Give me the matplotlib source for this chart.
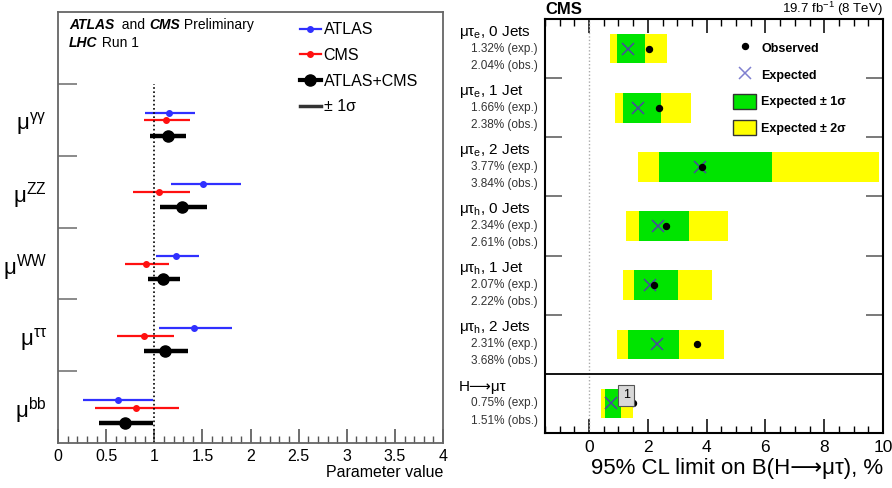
import numpy as np
import matplotlib
matplotlib.use('Agg')
import matplotlib.pyplot as plt
from matplotlib.lines import Line2D
from matplotlib.patches import Patch
from matplotlib.ticker import MultipleLocator, FuncFormatter

plt.rcParams['font.family'] = ['Liberation Sans', 'DejaVu Sans']
plt.rcParams['mathtext.fontset'] = 'custom'
plt.rcParams['mathtext.rm'] = 'Liberation Sans'
plt.rcParams['mathtext.it'] = 'Liberation Sans:italic'
plt.rcParams['mathtext.bf'] = 'Liberation Sans:bold'

# left panel: signal strengths, listed bottom -> top
channels = ['bb', 'ττ', 'WW', 'ZZ', 'γγ']
atlas_val = [0.62, 1.41, 1.23, 1.51, 1.15]
atlas_lo = [0.36, 0.36, 0.21, 0.34, 0.25]
atlas_hi = [0.37, 0.40, 0.23, 0.39, 0.27]
cms_val = [0.81, 0.89, 0.91, 1.05, 1.12]
cms_lo = [0.43, 0.28, 0.21, 0.27, 0.23]
cms_hi = [0.45, 0.31, 0.24, 0.32, 0.25]
comb_val = [0.70, 1.11, 1.09, 1.29, 1.14]
comb_lo = [0.27, 0.22, 0.16, 0.23, 0.18]
comb_hi = [0.29, 0.24, 0.18, 0.26, 0.19]

# right panel: H -> mu tau limits, listed top -> bottom
cats = ['μτ$_\\mathregular{e}$, 0 Jets', 'μτ$_\\mathregular{e}$, 1 Jet',
        'μτ$_\\mathregular{e}$, 2 Jets', 'μτ$_\\mathregular{h}$, 0 Jets',
        'μτ$_\\mathregular{h}$, 1 Jet', 'μτ$_\\mathregular{h}$, 2 Jets', 'H⟶μτ']
expected = [1.32, 1.66, 3.77, 2.34, 2.07, 2.31, 0.75]
observed = [2.04, 2.38, 3.84, 2.61, 2.22, 3.68, 1.51]
s1_lo = [0.95, 1.16, 2.39, 1.71, 1.54, 1.32, 0.55]
s1_hi = [1.91, 2.45, 6.23, 3.41, 3.03, 3.07, 1.08]
s2_lo = [0.72, 0.89, 1.67, 1.26, 1.14, 0.94, 0.42]
s2_hi = [2.66, 3.47, 9.85, 4.74, 4.19, 4.60, 1.49]

W, H = 892, 488
fig = plt.figure(figsize=(W / 100, H / 100), dpi=100)


def px_axes(l, t, r, b):
    return fig.add_axes([l / W, 1 - b / H, (r - l) / W, (b - t) / H])


# ---------------- left panel ----------------
ax = px_axes(58, 12, 443, 443)
band = np.arange(len(channels))
ax.errorbar(atlas_val, band + 0.60, xerr=[atlas_lo, atlas_hi], fmt='o',
            color='#3030ff', ms=4, elinewidth=1.6, capsize=0)
ax.errorbar(cms_val, band + 0.49, xerr=[cms_lo, cms_hi], fmt='o',
            color='#ff1010', ms=4, elinewidth=1.6, capsize=0)
ax.errorbar(comb_val, band + 0.28, xerr=[comb_lo, comb_hi], fmt='o',
            color='black', ms=8, elinewidth=3.2, capsize=0)
ax.vlines(1, 0, len(channels), colors='black', linestyles=(0, (1, 1.5)), lw=1.2)

ax.set_xlim(0, 4)
ax.set_ylim(0, len(channels) + 1)
ax.xaxis.set_major_locator(MultipleLocator(0.5))
ax.xaxis.set_minor_locator(MultipleLocator(0.1))
ax.xaxis.set_major_formatter(FuncFormatter(lambda v, p: f'{v:g}'))
ax.set_yticks(band + 0.5)
ax.set_yticklabels(['μ$^{\\mathregular{%s}}$' % c for c in channels], fontsize=16)
ax.set_yticks(np.arange(1, len(channels) + 1), minor=True)
ax.tick_params(axis='y', which='major', length=0, pad=8)
ax.tick_params(axis='y', which='minor', direction='in', length=14, width=1.2,
               color='#777777')
ax.tick_params(axis='x', which='major', direction='in', length=10, width=1.2,
               color='#555555', labelsize=11.5, pad=4)
ax.tick_params(axis='x', which='minor', direction='in', length=5, width=1,
               color='#555555')
for s in ax.spines.values():
    s.set_color('#666666')
    s.set_linewidth(1.3)
ax.text(1.0, -0.068, 'Parameter value', transform=ax.transAxes,
        ha='right', va='center', fontsize=11.5)

t1 = ax.text(0.029, 0.970, 'ATLAS', transform=ax.transAxes, fontsize=10,
             weight='bold', style='italic', va='center')
t2 = ax.annotate('  and ', xy=(1, 0.5), xycoords=t1, va='center', fontsize=10)
t3 = ax.annotate('CMS', xy=(1, 0.5), xycoords=t2, va='center', fontsize=10,
                 weight='bold', style='italic')
ax.annotate(' Preliminary', xy=(1, 0.5), xycoords=t3, va='center', fontsize=10)
t4 = ax.text(0.029, 0.928, 'LHC', transform=ax.transAxes, fontsize=10,
             weight='bold', style='italic', va='center')
ax.annotate(' Run 1', xy=(1, 0.5), xycoords=t4, va='center', fontsize=10)

lh = [Line2D([], [], color='#3030ff', lw=1.6, marker='o', ms=4),
      Line2D([], [], color='#ff1010', lw=1.6, marker='o', ms=4),
      Line2D([], [], color='black', lw=3, marker='o', ms=8),
      Line2D([], [], color='#333333', lw=2.5)]
ax.legend(lh, ['ATLAS', 'CMS', 'ATLAS+CMS', '± 1σ'], loc='upper left',
          bbox_to_anchor=(0.628, 0.976), frameon=False, fontsize=11.5,
          handlelength=1.3, handletextpad=0.2, labelspacing=0.67,
          borderpad=0, borderaxespad=0)

# ---------------- right panel ----------------
ax2 = px_axes(545, 19, 883, 433)
n = len(cats)
yc = n - 0.5 - np.arange(n)
ax2.barh(yc, np.array(s2_hi) - np.array(s2_lo), left=s2_lo, height=0.5,
         color='#ffff00', lw=0)
ax2.barh(yc, np.array(s1_hi) - np.array(s1_lo), left=s1_lo, height=0.5,
         color='#00e400', lw=0)
ax2.plot(expected, yc, 'x', color='#4848a0', ms=9, mew=1.1, ls='none')
ax2.plot(observed, yc, 'o', color='black', ms=4.3, ls='none')
ax2.axvline(0, color='#aaaaaa', ls=(0, (1, 1.5)), lw=1)
ax2.axhline(1, color='black', lw=1.3)
ax2.text(1.26, 0.64, '1', fontsize=9, ha='center', va='center',
         bbox=dict(boxstyle='square,pad=0.35', facecolor='#d8d8d8',
                   edgecolor='#555555', lw=0.8))

ax2.set_xlim(-1.5, 10)
ax2.set_ylim(0, n)
ax2.xaxis.set_major_locator(MultipleLocator(2))
ax2.xaxis.set_minor_locator(MultipleLocator(0.5))
ax2.set_yticks(np.arange(2, n))
ax2.set_yticklabels([])
ax2.tick_params(axis='x', which='both', direction='in', top=True)
ax2.tick_params(axis='x', which='major', length=10, width=1.1, labelsize=12.5, pad=5)
ax2.tick_params(axis='x', which='minor', length=5, width=1)
ax2.tick_params(axis='y', direction='in', left=True, right=True, length=12,
                width=1.1, color='#555555')
for s in ax2.spines.values():
    s.set_linewidth(1.5)
ax2.text(1.0, -0.085, '95% CL limit on B(H⟶μτ), %', transform=ax2.transAxes,
         ha='right', va='center', fontsize=16)

tr = ax2.get_yaxis_transform()
for y, c, e, o in zip(yc, cats, expected, observed):
    ax2.text(-0.254, y + 0.28, c, transform=tr, ha='left', va='center', fontsize=11)
    ax2.text(-0.021, y, f'{e:.2f}% (exp.)', transform=tr, ha='right',
             va='center', fontsize=8.5, color='#333333')
    ax2.text(-0.021, y - 0.29, f'{o:.2f}% (obs.)', transform=tr, ha='right',
             va='center', fontsize=8.5, color='#333333')

rh = [Line2D([], [], color='black', marker='o', ms=4.3, ls='none'),
      Line2D([], [], color='#8080d0', marker='x', ms=8, mew=1.1, ls='none'),
      Patch(facecolor='#00e400', edgecolor='#333333', lw=1),
      Patch(facecolor='#ffff00', edgecolor='#333333', lw=1)]
ax2.legend(rh, ['Observed', 'Expected', 'Expected ± 1σ', 'Expected ± 2σ'],
           loc='upper left', bbox_to_anchor=(0.557, 0.948), frameon=False,
           prop={'size': 9, 'weight': 'bold'}, handlelength=1.85,
           handleheight=1.45, handletextpad=0.4, labelspacing=0.94,
           borderpad=0, borderaxespad=0)

fig.text(545 / W, 1 - 9 / H, 'CMS', weight='bold', fontsize=12, va='center')
fig.text(883 / W, 1 - 9 / H, '19.7 fb$^{-1}$ (8 TeV)', fontsize=9.5,
         ha='right', va='center')

fig.savefig('out.png', dpi=100)
